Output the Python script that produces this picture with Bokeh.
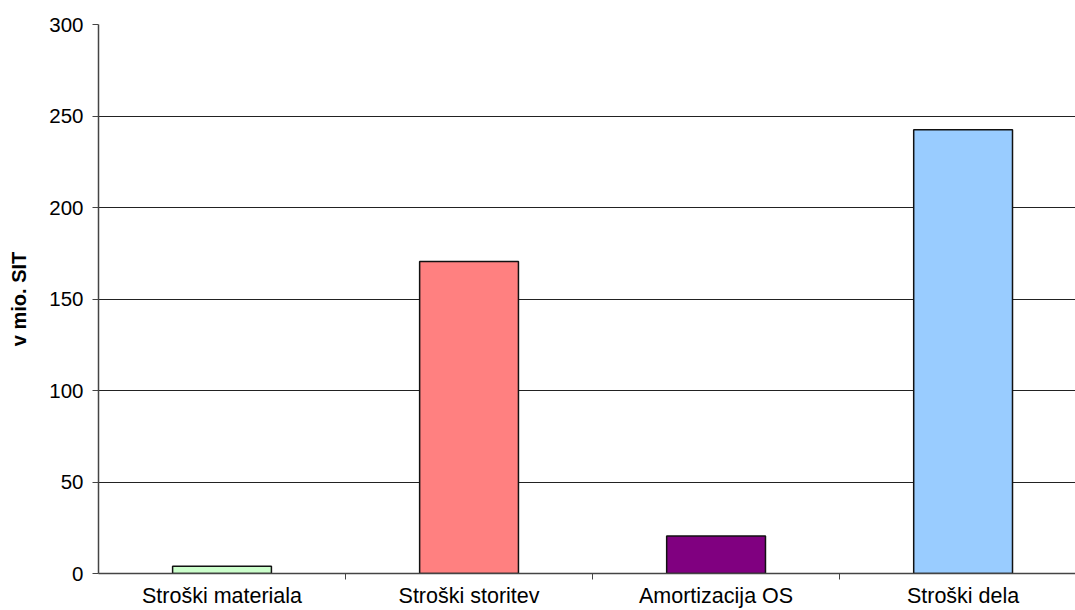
from bokeh.plotting import figure
from bokeh.models import FixedTicker, Range1d
from bokeh.embed import file_html
from bokeh.resources import INLINE

# Cost categories and amounts (v mio. SIT)
categories = ["Stroški materiala", "Stroški storitev", "Amortizacija OS", "Stroški dela"]
values = [4, 170.5, 20.5, 242.5]
colors = ["#CCFFCC", "#FF8080", "#800080", "#99CCFF"]
y_ticks = [0, 50, 100, 150, 200, 250, 300]

FONT = "Liberation Sans"

centers = [i + 0.5 for i in range(len(categories))]

p = figure(
    width=1075, height=610,
    x_range=Range1d(0, 3.955), y_range=Range1d(0, 300),
    output_backend="svg", toolbar_location=None,
    min_border_left=98, min_border_top=24, min_border_right=0, min_border_bottom=0,
)
p.outline_line_color = None
p.background_fill_color = "white"
p.border_fill_color = "white"

p.vbar(x=centers, top=values, width=0.4, bottom=0,
       fill_color=colors, line_color="#111111", line_width=1.5)

# Grid: horizontal lines only
p.xgrid.grid_line_color = None
p.ygrid.grid_line_color = "#222222"
p.ygrid.grid_line_width = 1
p.ygrid.ticker = FixedTicker(ticks=y_ticks)

# Y axis
p.yaxis.ticker = FixedTicker(ticks=y_ticks)
p.yaxis.axis_label = "v mio. SIT"
p.yaxis.axis_label_text_font = FONT
p.yaxis.axis_label_text_font_style = "bold"
p.yaxis.axis_label_text_font_size = "20px"
p.yaxis.axis_label_text_color = "black"
p.yaxis.axis_label_standoff = 16
p.yaxis.major_label_text_font = FONT
p.yaxis.major_label_text_font_size = "20.5px"
p.yaxis.major_label_text_color = "black"
p.yaxis.major_label_standoff = 9
p.yaxis.major_tick_out = 6
p.yaxis.major_tick_in = 0
p.yaxis.minor_tick_line_color = None
p.yaxis.axis_line_color = "#444444"
p.yaxis.axis_line_width = 1.5
p.yaxis.major_tick_line_color = "#444444"

# X axis: labels centred on categories, ticks on category boundaries
p.xaxis.ticker = FixedTicker(ticks=centers, minor_ticks=[1, 2, 3])
p.xaxis.major_label_overrides = {c: name for c, name in zip(centers, categories)}
p.xaxis.major_tick_line_color = None
p.xaxis.major_tick_out = 0
p.xaxis.major_tick_in = 0
p.xaxis.minor_tick_out = 6
p.xaxis.minor_tick_in = 0
p.xaxis.minor_tick_line_color = "#444444"
p.xaxis.axis_line_color = "#444444"
p.xaxis.axis_line_width = 1.5
p.xaxis.major_label_text_font = FONT
p.xaxis.major_label_text_font_size = "21.5px"
p.xaxis.major_label_text_color = "black"
p.xaxis.major_label_standoff = 4

open("out.html", "w").write(file_html(p, INLINE))
